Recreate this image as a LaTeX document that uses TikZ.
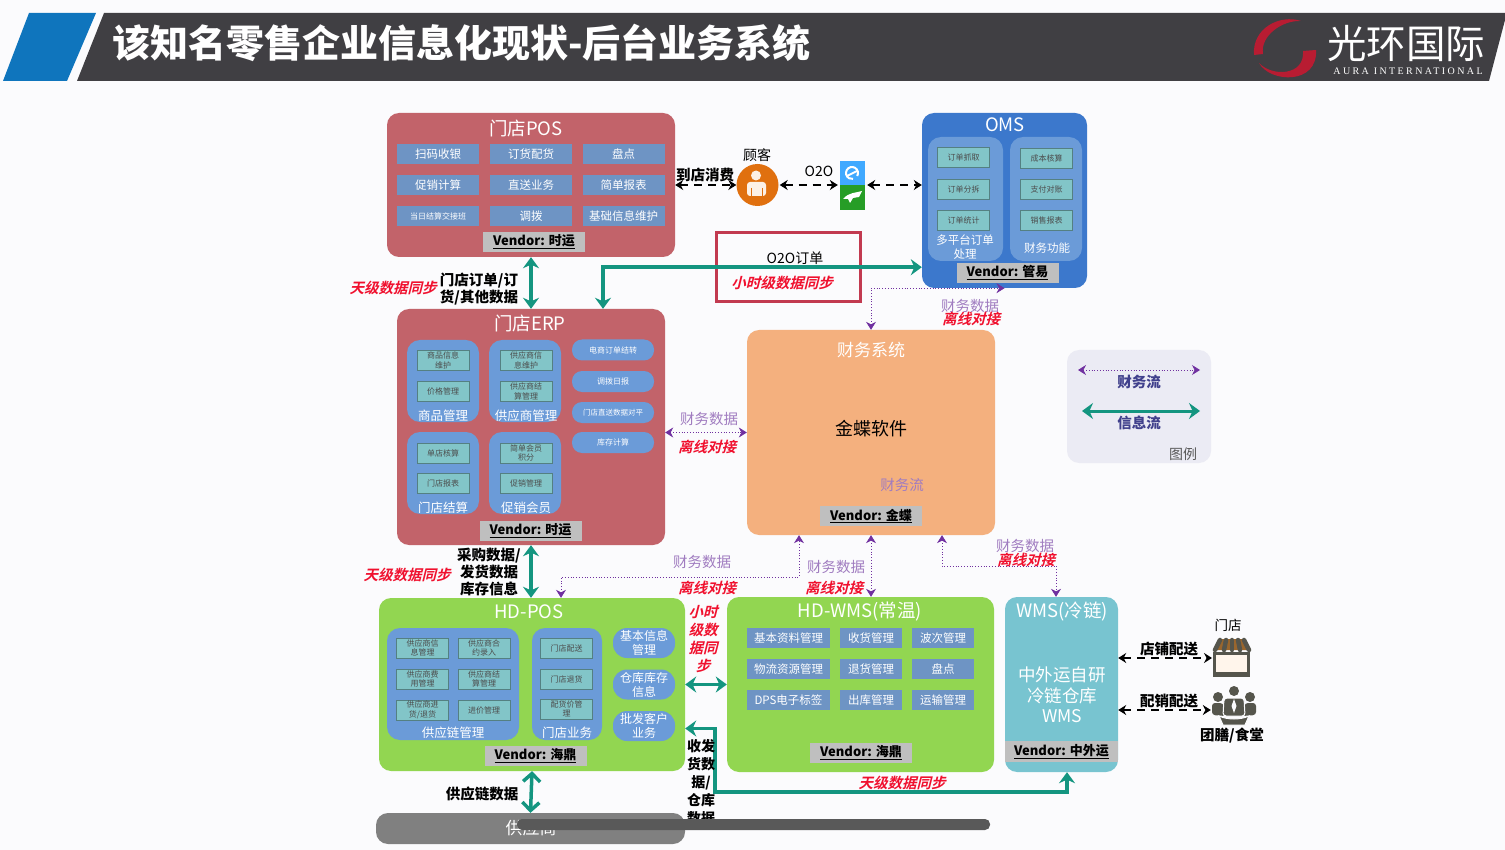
\documentclass[tikz,border=0pt]{standalone}
\usepackage{fontspec}
\setmainfont{Noto Sans CJK SC}
\newfontfamily\redfont[FakeSlant=0.25]{Noto Sans CJK SC Bold}
\newfontfamily\logofont[LetterSpace=24]{Liberation Serif}
\usetikzlibrary{arrows.meta}

\definecolor{bgc}{HTML}{FBFBFD}
\definecolor{barc}{HTML}{403F43}
\definecolor{bluec}{HTML}{0F75BD}
\definecolor{logored}{HTML}{B81C32}
\definecolor{posred}{HTML}{C2636A}
\definecolor{itemblue}{HTML}{6E94C4}
\definecolor{groupblue}{HTML}{6B9BD8}
\definecolor{tealc}{HTML}{82C5C8}
\definecolor{omsblue}{HTML}{3C78CC}
\definecolor{finc}{HTML}{F4B07E}
\definecolor{greenc}{HTML}{92D651}
\definecolor{wmsc}{HTML}{78C4D0}
\definecolor{flowc}{HTML}{149580}
\definecolor{purplec}{HTML}{7030A0}
\definecolor{finlabel}{HTML}{A07CC0}
\definecolor{redc}{HTML}{F0102E}
\definecolor{darkred}{HTML}{C23A50}
\definecolor{iconc}{HTML}{55554C}
\definecolor{custc}{HTML}{E0700F}

\tikzstyle{panel} = [rectangle, rounded corners=12pt, inner sep=0pt]
\tikzstyle{group} = [rectangle, rounded corners=13pt, inner sep=0pt, fill=groupblue]
\tikzstyle{title} = [text=white, inner sep=0pt, font=\fontsize{18.5}{20}\selectfont]
\tikzstyle{grouptext} = [text=white, inner sep=0pt, align=center, font=\fontsize{12.5}{15}\selectfont]
\tikzstyle{item} = [rectangle, fill=itemblue, text=white, inner sep=0pt, align=center, minimum width=82pt, minimum height=20pt, font=\fontsize{11.5}{13}\selectfont]
\tikzstyle{tile} = [rectangle, fill=tealc, draw=tealc!65!black, line width=0.4pt, text=black!70, inner sep=0pt, align=center, minimum width=52pt, minimum height=20pt, font=\fontsize{8}{9.5}\selectfont]
\tikzstyle{pill} = [rectangle, rounded corners=10pt, fill=groupblue, text=white, inner sep=0pt, align=center, minimum width=82pt, minimum height=21pt, font=\fontsize{8}{9.5}\selectfont]
\tikzstyle{bigpill} = [pill, rounded corners=14pt, minimum width=62pt, minimum height=30pt, font=\fontsize{12}{14}\selectfont]
\tikzstyle{vendor} = [rectangle, fill=black!25, inner sep=0pt, minimum width=102pt, minimum height=20pt, font=\fontsize{13}{15}\selectfont\bfseries]
\tikzstyle{note} = [inner sep=0pt, align=center, font=\fontsize{14.5}{17}\selectfont\bfseries]
\tikzstyle{finnote} = [inner sep=0pt, text=finlabel, font=\fontsize{14.5}{15}\selectfont]
\tikzstyle{sync} = [inner sep=0pt, align=center, text=redc, font=\fontsize{14.5}{18}\redfont]
\tikzstyle{infoflow} = [line width=3.5pt, flowc, {Stealth[length=11pt,width=16pt]}-{Stealth[length=11pt,width=16pt]}]
\tikzstyle{finflow} = [line width=0.8pt, dotted, purplec, {Stealth[length=8pt,width=10pt]}-{Stealth[length=8pt,width=10pt]}]
\tikzstyle{orderflow} = [line width=1.6pt, dash pattern=on 8pt off 6pt, black, {Stealth[length=8pt,width=10pt]}-{Stealth[length=8pt,width=10pt]}]

\begin{document}
\begin{tikzpicture}[x=1pt,y=-1pt]
\useasboundingbox (0,0) rectangle (1505,850);
\fill[bgc] (0,0) rectangle (1505,850);

% header band
\fill[bluec] (29,13) -- (96,13) -- (67,81) -- (3,81) -- cycle;
\fill[barc] (104,13) -- (1505,13) -- (1505,20) -- (1489,81) -- (77,81) -- cycle;
\node[inner sep=0pt, anchor=west, text=white, font=\fontsize{38}{40}\selectfont\bfseries] (head) at (112,43) {该知名零售企业信息化现状-后台业务系统};
\fill[logored] (1301,21) .. controls (1280,14) and (1252,28) .. (1254,55) -- (1263,54) .. controls (1260,36) and (1282,20) .. cycle;
\fill[logored] (1259,63) .. controls (1270,83) and (1318,85) .. (1316,50) -- (1303,51) .. controls (1305,76) and (1272,77) .. cycle;
\node[inner sep=0pt, text=white, font=\fontsize{39.5}{42}\selectfont] (logo) at (1406,43) {光环国际};
\node[inner sep=0pt, text=white, font=\fontsize{10}{11}\logofont] (logoen) at (1408,71) {AURA INTERNATIONAL};

% door store POS
\node[panel, fill=posred, minimum width=288pt, minimum height=144pt] (pos) at (531,185) {};
\node[title] (postitle) at (526,128) {门店POS};
\node[item] (pos1) at (438,154.5) {扫码收银};
\node[item] (pos2) at (531,154.5) {订货配货};
\node[item] (pos3) at (623.5,154.5) {盘点};
\node[item] (pos4) at (438,185.5) {促销计算};
\node[item] (pos5) at (531,185.5) {直送业务};
\node[item] (pos6) at (623.5,185.5) {简单报表};
\node[item, font=\fontsize{8}{9}\selectfont] (pos7) at (438,216) {当日结算交接班};
\node[item] (pos8) at (531,216) {调拨};
\node[item] (pos9) at (623.5,216) {基础信息维护};
\node[vendor] (posv) at (534,242) {\underline{Vendor: 时运}};

% door store ERP
\node[panel, fill=posred, minimum width=268pt, minimum height=236pt] (erp) at (531,427) {};
\node[title] (erptitle) at (530,323) {门店ERP};
\node[group, minimum width=72pt, minimum height=82pt] (erpg1) at (443,381) {};
\node[group, minimum width=72pt, minimum height=82pt] (erpg2) at (525,381) {};
\node[group, minimum width=72pt, minimum height=82pt] (erpg3) at (443,473) {};
\node[group, minimum width=72pt, minimum height=82pt] (erpg4) at (525,473) {};
\node[tile] (erp1) at (443,360.5) {商品信息\\维护};
\node[tile] (erp2) at (443,391.5) {价格管理};
\node[grouptext] (erpl1) at (443,416) {商品管理};
\node[tile] (erp3) at (526,360.5) {供应商信\\息维护};
\node[tile] (erp4) at (526,391.5) {供应商结\\算管理};
\node[grouptext] (erpl2) at (526,416) {供应商管理};
\node[tile] (erp5) at (443,453) {单店核算};
\node[tile] (erp6) at (443,483.5) {门店报表};
\node[grouptext] (erpl3) at (443,508) {门店结算};
\node[tile] (erp7) at (526,453) {简单会员\\积分};
\node[tile] (erp8) at (526,483.5) {促销管理};
\node[grouptext] (erpl4) at (526,508) {促销会员};
\node[pill] (erpp1) at (613,350) {电商订单结转};
\node[pill] (erpp2) at (613,381.5) {调拨日报};
\node[pill, font=\fontsize{7.5}{9}\selectfont] (erpp3) at (613,412.5) {门店直送数据对平};
\node[pill] (erpp4) at (613,442.5) {库存计算};
\node[vendor] (erpv) at (530.5,531) {\underline{Vendor: 时运}};

% finance
\node[panel, fill=finc, minimum width=248pt, minimum height=205pt] (fin) at (871,432.5) {};
\node[title, font=\fontsize{17}{20}\selectfont] (fintitle) at (871,350) {财务系统};
\node[inner sep=0pt, font=\fontsize{18}{20}\selectfont] (finsoft) at (871,429) {金蝶软件};
\node[finnote] (finflowl) at (902,485) {财务流};
\node[vendor] (finv) at (871,516) {\underline{Vendor: 金蝶}};

% OMS
\node[panel, fill=omsblue, minimum width=165pt, minimum height=175pt] (oms) at (1004.5,200.5) {};
\node[title] (omstitle) at (1005,125) {OMS};
\node[group, minimum width=75pt, minimum height=124pt] (omsg1) at (965.5,199) {};
\node[group, minimum width=72pt, minimum height=124pt] (omsg2) at (1046,199) {};
\node[tile] (oms1) at (963.5,157) {订单抓取};
\node[tile] (oms2) at (963.5,189) {订单分拆};
\node[tile] (oms3) at (963.5,220) {订单统计};
\node[grouptext, font=\fontsize{11.5}{14}\selectfont] (omsl1) at (965,247) {多平台订单\\处理};
\node[tile] (oms4) at (1046.5,158.5) {成本核算};
\node[tile] (oms5) at (1046.5,189) {支付对账};
\node[tile] (oms6) at (1046.5,220) {销售报表};
\node[grouptext, font=\fontsize{11.5}{14}\selectfont] (omsl2) at (1047,248) {财务功能};
\node[vendor] (omsv) at (1007.5,273) {\underline{Vendor: 管易}};

% customer and O2O platforms
\node[circle, fill=custc, minimum size=42pt, inner sep=0pt] (cust) at (757.5,185) {};
\fill[white!90!custc] (756,175.5) circle (5);
\fill[white!90!custc, rounded corners=3pt] (747,196) -- (747,182) -- (766,182) -- (766,196) -- cycle;
\draw[custc, line width=0.8pt] (751,188) -- (751,196);
\draw[custc, line width=0.8pt] (762,188) -- (762,196);
\node[note, font=\fontsize{14}{16}\selectfont] (custl) at (757,155) {顾客};
\node[rectangle, fill=blue!45!cyan!75, minimum width=25pt, minimum height=24pt, inner sep=0pt] (ele) at (852.5,173) {};
\draw[white, line width=2pt] (857.2,176) arc (30:-280:6);
\draw[white, line width=2pt] (847,176) -- (857,171);
\node[rectangle, fill=green!55!black!85, minimum width=25pt, minimum height=25pt, inner sep=0pt] (horse) at (852.5,197.5) {};
\fill[white] (843,199) .. controls (849,192) and (856,193) .. (862,191) -- (859,197) -- (853,198) -- (850,203) -- (848,199) -- cycle;
\node[inner sep=0pt, font=\fontsize{14}{16}\selectfont] (o2ol) at (819,171) {O2O};

% order box
\node[rectangle, draw=darkred, line width=3pt, minimum width=144pt, minimum height=69pt, inner sep=0pt] (o2obox) at (788,267.5) {};
\node[inner sep=0pt, font=\fontsize{14}{16}\selectfont] (o2oorder) at (795,258) {O2O订单};

% HD-POS
\node[panel, fill=greenc, minimum width=306pt, minimum height=173pt] (hdpos) at (532,684.5) {};
\node[title] (hdpostitle) at (529,612) {HD-POS};
\node[group, minimum width=132pt, minimum height=112pt] (hdg1) at (453,684) {};
\node[group, minimum width=70pt, minimum height=112pt] (hdg2) at (567,684) {};
\node[tile] (hd1) at (422.5,648) {供应商信\\息管理};
\node[tile] (hd2) at (484,648) {供应商合\\约录入};
\node[tile] (hd3) at (422.5,679) {供应商费\\用管理};
\node[tile] (hd4) at (484,679) {供应商结\\算管理};
\node[tile] (hd5) at (422.5,710) {供应商进\\货/退货};
\node[tile] (hd6) at (484,710) {进价管理};
\node[grouptext] (hdl1) at (453,733) {供应链管理};
\node[tile] (hd7) at (566.5,648) {门店配送};
\node[tile] (hd8) at (566.5,679) {门店退货};
\node[tile] (hd9) at (566.5,709) {配货价管\\理};
\node[grouptext] (hdl2) at (567,733) {门店业务};
\node[bigpill] (hdp1) at (644,643) {基本信息\\管理};
\node[bigpill] (hdp2) at (644,684.5) {仓库库存\\信息};
\node[bigpill] (hdp3) at (644,726) {批发客户\\业务};
\node[vendor] (hdv) at (535.5,756) {\underline{Vendor: 海鼎}};

% HD-WMS
\node[panel, fill=greenc, minimum width=267pt, minimum height=175pt] (hdwms) at (860.5,684.5) {};
\node[title] (hdwmstitle) at (860,612) {HD-WMS(常温)};
\node[item, minimum width=83pt] (wm1) at (788.5,638) {基本资料管理};
\node[item, minimum width=62pt] (wm2) at (871,638) {收货管理};
\node[item, minimum width=62pt] (wm3) at (943,638) {波次管理};
\node[item, minimum width=83pt] (wm4) at (788.5,669) {物流资源管理};
\node[item, minimum width=62pt] (wm5) at (871,669) {退货管理};
\node[item, minimum width=62pt] (wm6) at (943,669) {盘点};
\node[item, minimum width=83pt] (wm7) at (788.5,700) {DPS电子标签};
\node[item, minimum width=62pt] (wm8) at (871,700) {出库管理};
\node[item, minimum width=62pt] (wm9) at (943,700) {运输管理};
\node[vendor] (hdwv) at (861,752.5) {\underline{Vendor: 海鼎}};

% cold chain WMS
\node[panel, fill=wmsc, minimum width=113pt, minimum height=175pt] (wms) at (1061.5,684.5) {};
\node[title] (wmstitle) at (1062,612) {WMS(冷链)};
\node[inner sep=0pt, text=white, align=center, font=\fontsize{17.5}{20.5}\selectfont] (wmstext) at (1062,695) {中外运自研\\冷链仓库\\WMS};
\node[vendor, minimum width=113pt, minimum height=21pt] (wmsv) at (1061.5,751.5) {\underline{Vendor: 中外运}};

% supplier
\node[panel, fill=black!50, minimum width=309pt, minimum height=31pt] (sup) at (530.5,828.5) {};
\node[inner sep=0pt, text=white, font=\fontsize{17}{19}\selectfont] (supl) at (531,828) {供应商};

% store and canteen icons
\node[inner sep=0pt, minimum width=34pt, minimum height=20pt, draw=iconc, fill=white!92!orange, line width=3pt] (store) at (1231.5,663.5) {};
\draw[iconc, line width=3pt] (store.south west) -- (store.south east);
\fill[orange!40!iconc] (1214,650) -- (1219,639) -- (1245,639) -- (1250,650) -- cycle;
\draw[iconc, line width=4.5pt, line cap=round] (1220,640) -- (1215,650);
\draw[iconc, line width=4.5pt, line cap=round] (1226,640) -- (1224,650);
\draw[iconc, line width=4.5pt, line cap=round] (1232,640) -- (1232,650);
\draw[iconc, line width=4.5pt, line cap=round] (1238,640) -- (1240,650);
\draw[iconc, line width=4.5pt, line cap=round] (1244,640) -- (1249,650);
\node[note, font=\fontsize{13.5}{16}\selectfont] (storel) at (1228,625) {门店};
\node[inner sep=0pt, minimum width=46pt, minimum height=20pt] (crowd) at (1234,710) {};
\fill[iconc] (1218,697) circle (5);
\fill[iconc] (1234,691) circle (5);
\fill[iconc] (1250,697) circle (5);
\fill[iconc, rounded corners=3pt] (1212,715) -- (1212,703) -- (1223,703) -- (1226,716) -- cycle;
\fill[iconc, rounded corners=3pt] (1256,715) -- (1256,703) -- (1245,703) -- (1242,716) -- cycle;
\fill[iconc, rounded corners=3pt, draw=bgc, line width=1pt] (1223,716) -- (1224,698) -- (1244,698) -- (1245,716) -- cycle;
\fill[bgc] (1234,699) -- (1236.5,706) -- (1234,713) -- (1231.5,706) -- cycle;
\fill[iconc, draw=bgc, line width=1pt] (1219,716) .. controls (1228,720) and (1240,720) .. (1249,716) -- (1245,725) -- (1223,725) -- cycle;
\node[note] (crowdl) at (1232,736) {团膳/食堂};

% legend
\node[panel, fill=blue!30!gray!12, minimum width=144pt, minimum height=113pt] (legend) at (1139,406.5) {};
\coordinate (lega) at (1078,370);
\coordinate (legb) at (1200,370);
\coordinate (legc) at (1082,411);
\coordinate (legd) at (1200,411);
\draw[finflow] (lega) -- (legb);
\draw[infoflow, line width=3pt] (legc) -- (legd);
\node[note, text=blue!40!black!75] (legl1) at (1139,382) {财务流};
\node[note, text=blue!40!black!75] (legl2) at (1139,423) {信息流};
\node[inner sep=0pt, text=black!65, font=\fontsize{14}{15}\selectfont] (legl3) at (1183,454) {图例};

% info flows
\draw[infoflow] (pos) -- (erp);
\draw[infoflow] (erp) -- (erp |- hdpos.north);
\draw[infoflow] ([xshift=72pt]erp.north) |- ([yshift=21pt]oms.south west);
\draw[infoflow] (hdpos.east |- hdwms) -- (hdwms.west);
\coordinate (belt) at (715,792);
\draw[infoflow] ([yshift=-44pt]hdpos.east) -| (belt) -| ([xshift=5.5pt]wms.south);
\draw[infoflow, {Straight Barb[length=8pt,width=17pt]}-{Straight Barb[length=8pt,width=17pt]}] (hdpos.south) -- (sup.north);

% finance flows
\coordinate (fa) at (561,577);
\coordinate (fb) at (942,566);
\draw[finflow] (erp.east |- fin.west) -- (fin.west);
\draw[finflow] (fin.north) |- (oms.south);
\draw[finflow] (fa |- hdpos.north) -- (fa) -| ([xshift=-72pt]fin.south);
\draw[finflow] (fin.south) -- (fin.south |- hdwms.north);
\draw[finflow] ([xshift=71pt]fin.south) -- (fb) -| ([xshift=-5.5pt]wms.north);

% order flows
\draw[orderflow] (pos.east |- cust) -- (cust);
\draw[orderflow] (cust.east) ++(1,0) -- ([xshift=-2pt]ele.south west |- cust);
\draw[orderflow] ([xshift=2pt]ele.south east |- cust) -- (oms.west |- cust);
\draw[orderflow] ([yshift=5.5pt]wms.east |- store) -- ([xshift=-1pt,yshift=5.5pt]store.west);
\draw[orderflow] (wms.east |- crowd) -- (crowd.west);

% flow labels
\node[note] (lb1) at (705,175) {到店消费};
\node[sync] (lb2) at (393,288) {天级数据同步};
\node[note] (lb3) at (479,289) {门店订单/订\\货/其他数据};
\node[sync] (lb4) at (782,283) {小时级数据同步};
\node[finnote] (lb5) at (970,306) {财务数据};
\node[sync] (lb6) at (971,319) {离线对接};
\node[finnote] (lb7) at (709,419) {财务数据};
\node[sync] (lb8) at (707,447) {离线对接};
\node[sync] (lb9) at (407,575) {天级数据同步};
\node[note] (lb10) at (489,572) {采购数据/\\发货数据\\库存信息};
\node[finnote] (lb11) at (702,562) {财务数据};
\node[sync] (lb12) at (707,588) {离线对接};
\node[finnote] (lb13) at (836,567) {财务数据};
\node[sync] (lb14) at (834,588) {离线对接};
\node[finnote] (lb15) at (1025,546) {财务数据};
\node[sync] (lb16) at (1026,560) {离线对接};
\node[sync] (lb17) at (703,639) {小时\\级数\\据同\\步};
\node[note] (lb18) at (482,794) {供应链数据};
\node[sync] (lb19) at (902,783) {天级数据同步};
\node[note] (lb20) at (1169,649) {店铺配送};
\node[note] (lb21) at (1169,701) {配销配送};
\begin{scope}
\clip (686,735) rectangle (720,818);
\node[note, font=\fontsize{14}{18}\selectfont\bfseries, anchor=north] (lb22) at (701,739) {收发\\货数\\据/\\仓库\\数据};
\end{scope}

% window scroll bar
\fill[black!65, rounded corners=5pt] (517,819) rectangle (990,830);
\end{tikzpicture}
\end{document}
